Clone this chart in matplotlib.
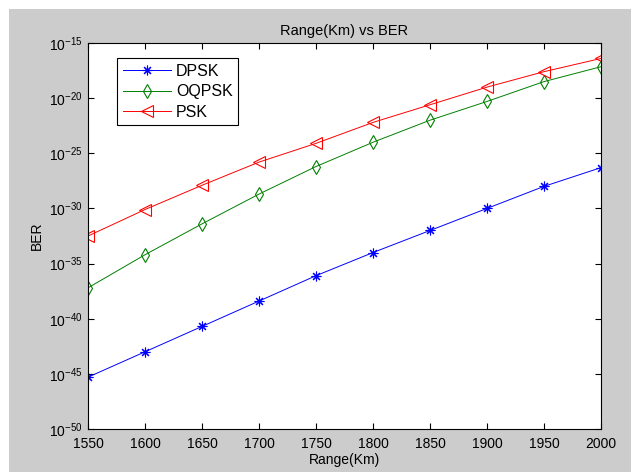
"""
Range(Km) vs BER для DPSK, OQPSK, PSK
"""

import numpy as np
import matplotlib
matplotlib.use('Agg')
import matplotlib.pyplot as plt
from matplotlib.patches import Rectangle

# Данные
range_km = [1550, 1600, 1650, 1700, 1750, 1800, 1850, 1900, 1950, 2000]
dpsk_exp = [-45.3, -43.0, -40.7, -38.4, -36.1, -34.0, -32.0, -30.0, -28.0, -26.3]
oqpsk_exp = [-37.2, -34.2, -31.4, -28.7, -26.2, -24.0, -22.0, -20.3, -18.5, -17.15]
psk_exp = [-32.5, -30.1, -27.9, -25.8, -24.1, -22.2, -20.6, -19.0, -17.6, -16.4]
y_ticks_exp = [-50, -45, -40, -35, -30, -25, -20, -15]

plt.rcParams['font.family'] = 'Liberation Sans'
plt.rcParams['mathtext.fontset'] = 'custom'
plt.rcParams['mathtext.rm'] = 'Liberation Sans'
plt.rcParams['mathtext.default'] = 'regular'

fig = plt.figure(figsize=(6.31, 4.72), dpi=100, facecolor='white')
# серый фон окна как в MATLAB
fig.patches.append(Rectangle((9 / 631, 0), 1, 1 - 9 / 472, transform=fig.transFigure,
                             facecolor='#cccccc', edgecolor='none', zorder=-10))

ax = fig.add_axes([88 / 631, 1 - 429 / 472, 513 / 631, 386 / 472])
ax.set_yscale('log')

# маркер-звёздочка как в MATLAB ('+' и 'x' вместе)
series = [
    ('DPSK', dpsk_exp, 'b', (8, 2, 0), 7),
    ('OQPSK', oqpsk_exp, 'g', 'd', 7),
    ('PSK', psk_exp, 'r', '<', 8),
]
for name, exps, color, marker, ms in series:
    vals = 10.0 ** np.array(exps)
    ax.plot(range_km, vals, color=color, marker=marker, markersize=ms, linewidth=0.7,
            markerfacecolor='none', markeredgecolor=color, markeredgewidth=0.8, label=name)

ax.set_xlim(1550, 2000)
ax.set_ylim(1e-50, 1e-15)
ax.set_xticks(range_km)
ax.set_yticks([10.0 ** e for e in y_ticks_exp])
ax.set_yticklabels([f'10$^{{{e}}}$' for e in y_ticks_exp])
ax.yaxis.set_minor_locator(matplotlib.ticker.NullLocator())
ax.tick_params(which='both', direction='in', top=True, right=True, length=4,
               labelsize=10, width=0.8)
ax.tick_params(axis='x', pad=6)
for sp in ax.spines.values():
    sp.set_linewidth(0.8)

ax.set_title('Range(Km) vs BER', fontsize=10.5, pad=6)
ax.set_xlabel('Range(Km)', fontsize=10, labelpad=1)
ax.set_ylabel('BER', fontsize=10, labelpad=4)

leg = ax.legend(loc='upper left', bbox_to_anchor=(29 / 513, 1 - 15 / 386), fontsize=11.5,
                fancybox=False, edgecolor='black', framealpha=1, borderaxespad=0,
                handlelength=3.0, handletextpad=0.35, borderpad=0.35, labelspacing=0.35)
leg.get_frame().set_linewidth(0.8)

fig.savefig('out.png', dpi=100, facecolor=fig.get_facecolor())
